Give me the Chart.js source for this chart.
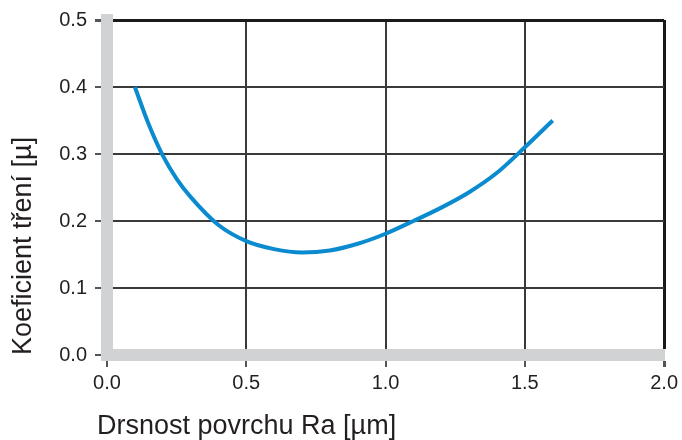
<!DOCTYPE html>
<html>
<head>
<meta charset="utf-8">
<script src="https://cdn.jsdelivr.net/npm/chart.js@4"></script>
<style>
  html, body { margin: 0; padding: 0; background: #fff; }
  #wrap { width: 682px; height: 440px; }
</style>
</head>
<body>
<div id="wrap"><canvas id="friction"></canvas></div>
<script>
// drsnost povrchu Ra [µm]
var roughness = [0.1, 0.15, 0.2, 0.25, 0.3, 0.4, 0.5, 0.6, 0.7, 0.8, 0.9, 1.0, 1.1, 1.2, 1.3, 1.4, 1.5, 1.6];
// koeficient tření [µ]
var friction = [0.400, 0.344, 0.298, 0.263, 0.236, 0.194, 0.170, 0.158, 0.153, 0.156, 0.166, 0.181, 0.200, 0.220, 0.243, 0.272, 0.310, 0.350];

var xTicks = [0, 0.5, 1.0, 1.5, 2.0];
var yTicks = [0, 0.1, 0.2, 0.3, 0.4, 0.5];

var xTitle = 'Drsnost povrchu Ra [µm]';
var yTitle = 'Koeficient tření [µ]';

var points = roughness.map(function (x, i) {
    return { x: x, y: friction[i] };
});

var fontFamily = '"Liberation Sans", Arial, Helvetica, sans-serif';
var textColor = '#231f20';
var barGrey = '#d1d2d4';

// x title sits a bit left of the plot, so it is drawn by hand
var xTitlePlugin = {
    id: 'xTitle',
    afterDraw: function (chart) {
        var c = chart.ctx;
        c.save();
        c.font = '27px ' + fontFamily;
        c.fillStyle = textColor;
        c.textAlign = 'left';
        c.textBaseline = 'middle';
        c.fillText(xTitle, 97, 427);
        c.restore();
    }
};

var ctx = document.getElementById('friction').getContext('2d');
var chart = new Chart(ctx, {
    type: 'line',
    data: {
        datasets: [{
            data: points,
            borderColor: '#0a8bd0',
            borderWidth: 4,
            borderCapStyle: 'butt',
            pointRadius: 0,
            cubicInterpolationMode: 'monotone',
            fill: false
        }]
    },
    options: {
        responsive: true,
        maintainAspectRatio: false,
        animation: false,
        layout: {
            padding: { top: 20, right: 16, bottom: 0, left: 7 }
        },
        plugins: {
            legend: { display: false },
            tooltip: { enabled: false }
        },
        scales: {
            x: {
                type: 'linear',
                min: xTicks[0],
                max: xTicks[xTicks.length - 1],
                afterBuildTicks: function (scale) {
                    scale.ticks = xTicks.map(function (v) { return { value: v }; });
                },
                afterFit: function (scale) { scale.height = 85; },
                grid: {
                    color: function (c) { return c.tick && c.tick.value === 2 ? '#1a1a1a' : '#3a3a3a'; },
                    lineWidth: function (c) { return c.tick && c.tick.value === 2 ? 3 : 2; },
                    tickLength: 12,
                    tickColor: '#555'
                },
                border: { color: barGrey, width: 12 },
                ticks: {
                    color: textColor,
                    padding: 4,
                    font: { family: fontFamily, size: 20 },
                    callback: function (v) { return Number(v).toFixed(1); }
                }
            },
            y: {
                type: 'linear',
                min: yTicks[0],
                max: yTicks[yTicks.length - 1],
                afterBuildTicks: function (scale) {
                    scale.ticks = yTicks.map(function (v) { return { value: v }; });
                },
                afterFit: function (scale) { scale.width = 100; },
                grid: {
                    color: function (c) { return c.tick && c.tick.value === 0.5 ? '#1a1a1a' : '#3a3a3a'; },
                    lineWidth: function (c) { return c.tick && c.tick.value === 0.5 ? 3 : 2; },
                    tickLength: 12,
                    tickColor: '#555'
                },
                border: { color: barGrey, width: 12 },
                ticks: {
                    color: textColor,
                    padding: 8,
                    font: { family: fontFamily, size: 20 },
                    callback: function (v) { return Number(v).toFixed(1); }
                },
                title: {
                    display: true,
                    text: yTitle,
                    align: 'start',
                    color: textColor,
                    padding: { top: 0, bottom: 0 },
                    font: { family: fontFamily, size: 27, lineHeight: 1.2 }
                }
            }
        }
    },
    plugins: [xTitlePlugin]
});
</script>
</body>
</html>
